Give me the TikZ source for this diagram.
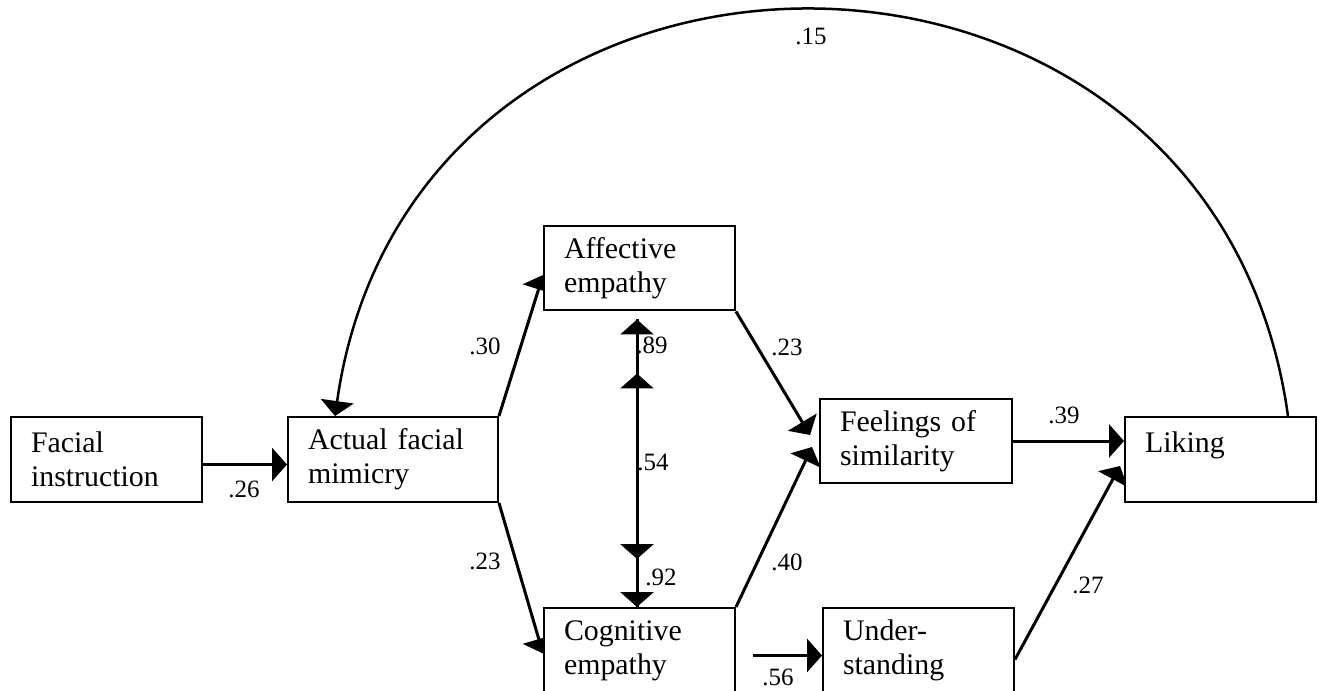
\documentclass[tikz,border=0pt]{standalone}
\usepackage{fontspec}
\setmainfont{Liberation Serif}
\usetikzlibrary{arrows.meta,calc,backgrounds}
\begin{document}
\begin{tikzpicture}[x=0.02cm,y=-0.02cm,
  box/.style={draw,line width=0.04cm,fill=white,align=left,inner xsep=0.4cm,inner ysep=0pt,
    minimum height=1.7cm,font=\fontsize{17}{19.4}\selectfont},
  tip/.style={-{Triangle[length=0.3cm,width=0.66cm]}},
  conn/.style={line width=0.06cm,tip},
  plainline/.style={line width=0.06cm},
  arcline/.style={line width=0.05cm,tip},
  lab/.style={inner sep=0pt,font=\fontsize{14.2}{17}\selectfont}]
\useasboundingbox (0,0) rectangle (1319,690);
\clip (0,0) rectangle (1319,690);

% boxes
\node[box,text width=3.02cm] (fac) at (106.5,459.5) {Facial\\instruction};
\node[box,text width=3.4cm]  (act) at (393,459.5)   {Actual facial\\mimicry};
\node[box,text width=3.02cm] (aff) at (639.5,268)   {Affective\\empathy};
\node[box,text width=3.02cm] (cog) at (639.5,650.5) {Cognitive\\empathy};
\node[box,text width=3.04cm] (fee) at (916,441)     {Feelings of\\similarity};
\node[box,text width=3.02cm] (und) at (918.5,650.5) {Under-\\standing};
\node[box,text width=3.02cm] (lik) at (1220.5,459.5) {Liking\\~};

\coordinate (cu) at ($(cog.east)+(17,5)$);

\begin{pgfonlayer}{background}
% paths
\draw[conn] ($(fac.east)+(0,5)$) -- ($(act.west)+(0,5)$);
\draw[conn] (act.north east) -- ($(aff.west)+(0,7)$);
\draw[conn] (act.south east) -- ($(cog.west)+(0,3)$);
\draw[conn] (aff.south east) -- ($(fee.west)+(-9,-6)$);
\draw[conn] (cog.north east) -- ($(fee.west)+(-7,6)$);
\draw[conn] (cu) -- ($(und.west)+(0,5)$);
\draw[conn] (fee.east) -- (fee.east -| lik.west);
\draw[conn] ($(und.east)+(0,9)$) -- ($(lik.west)+(-4,6.5)$);
% correlation line with four heads
\draw[plainline] ($(aff.south)+(-2.5,8)$) -- ($(cog.north)+(-2.5,0)$);
\draw[conn] ($(aff.south)+(-2.5,30)$) -- ($(aff.south)+(-2.5,8)$);
\draw[conn] ($(aff.south)+(-2.5,84)$) -- ($(aff.south)+(-2.5,62)$);
\draw[conn] ($(cog.north)+(-2.5,-70)$) -- ($(cog.north)+(-2.5,-48)$);
\draw[conn] ($(cog.north)+(-2.5,-22)$) -- ($(cog.north)+(-2.5,0)$);
% long arc
\draw[arcline] ($(lik.north east)+(-29,0)$) .. controls +(-75,-541) and +(77,-541) .. ($(act.north west)+(48,0)$);
\end{pgfonlayer}

% labels
\node[lab] (l15) at (811,36) {.15};
\node[lab] (l26) at (244,489) {.26};
\node[lab] (l30) at (485,346) {.30};
\node[lab] (l23a) at (485,561) {.23};
\node[lab] (l89) at (652,345) {.89};
\node[lab] (l54) at (653,462) {.54};
\node[lab] (l92) at (661,577) {.92};
\node[lab] (l23b) at (787,347) {.23};
\node[lab] (l40) at (787,562) {.40};
\node[lab] (l56) at (778,677) {.56};
\node[lab] (l39) at (1064,415) {.39};
\node[lab] (l27) at (1088,585) {.27};
\end{tikzpicture}
\end{document}
